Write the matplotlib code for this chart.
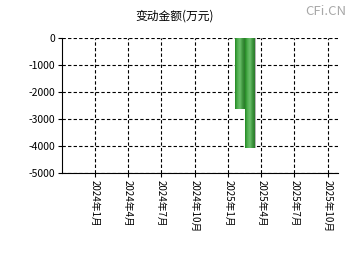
import matplotlib
matplotlib.use("Agg")
import matplotlib.pyplot as plt
import matplotlib.dates as mdates
import numpy as np
import pandas as pd

plt.rcParams['font.family'] = ['Noto Sans CJK SC', 'DejaVu Sans']

# data
dates = pd.to_datetime(["2025-01-31", "2025-02-28"])
values = [-2630, -4070]
tick_dates = pd.to_datetime(["2024-01-01", "2024-04-01", "2024-07-01", "2024-10-01",
                             "2025-01-01", "2025-04-01", "2025-07-01", "2025-10-01"])
tick_labels = ["2024年1月", "2024年4月", "2024年7月", "2024年10月",
               "2025年1月", "2025年4月", "2025年7月", "2025年10月"]
y_ticks = [0, -1000, -2000, -3000, -4000, -5000]

fig = plt.figure(figsize=(3.5, 2.6), dpi=100)
ax = fig.add_axes([62 / 350, 87 / 260, 276 / 350, 135 / 260])

bar_w = 26  # days
cmap = matplotlib.colors.LinearSegmentedColormap.from_list(
    "g", ["#238a23", "#4fae4f", "#6cc06c", "#3f963f", "#2a7a2a"])
grad = np.linspace(0, 1, 64).reshape(1, -1)
for d, v in zip(dates, values):
    x0 = mdates.date2num(d) - bar_w / 2
    # small grey shadow on the right side
    ax.bar(x0 + bar_w + 1.5, v, width=3, align="edge", color="#b8b8b8",
           zorder=2, linewidth=0)
    rect = plt.Rectangle((x0, v), bar_w, -v, facecolor="none", edgecolor="none")
    ax.add_patch(rect)
    im = ax.imshow(grad, extent=[x0, x0 + bar_w, v, 0], aspect="auto",
                   cmap=cmap, zorder=3)
    im.set_clip_path(rect)

ax.set_xlim(mdates.date2num(pd.Timestamp("2023-10-04")),
            mdates.date2num(pd.Timestamp("2025-10-28")))
ax.set_ylim(-5000, 0)
ax.set_xticks(mdates.date2num(tick_dates))
ax.set_xticklabels(tick_labels, rotation=-90, fontsize=7)
ax.set_yticks(y_ticks)
ax.set_yticklabels([str(t) for t in y_ticks], fontsize=7.5)
ax.tick_params(axis="both", length=3, width=0.8, pad=2)

ax.grid(True, color="black", linestyle=(0, (3, 2)), linewidth=0.8)
ax.set_axisbelow(True)
ax.spines["top"].set_visible(False)
ax.spines["right"].set_visible(False)

fig.text(0.5, 0.94, "变动金额(万元)", ha="center", va="center", fontsize=8.5)
fig.text(0.99, 0.955, "CFi.CN", ha="right", va="center", fontsize=9.5,
         color="#a8a8a8")

fig.savefig("out.png", dpi=100)
